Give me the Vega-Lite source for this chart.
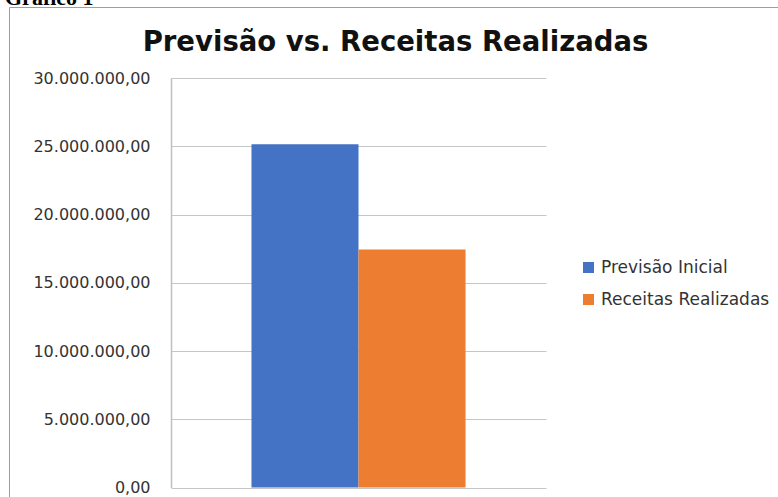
{
  "$schema": "https://vega.github.io/schema/vega-lite/v6.json",
  "autosize": "none",
  "padding": {"left": 9, "top": 7, "right": 0, "bottom": 0},
  "width": 769,
  "height": 490,
  "title": {
    "text": "Gráfico 1",
    "anchor": "start",
    "frame": "group",
    "font": "Liberation Serif",
    "fontSize": 22,
    "fontWeight": "bold",
    "color": "#000000",
    "offset": 0,
    "dx": -4,
    "dy": 20,
    "baseline": "alphabetic"
  },
  "data": {
    "values": [
      {"serie": "Previsão Inicial", "valor": 25150000},
      {"serie": "Receitas Realizadas", "valor": 17430000}
    ]
  },
  "mark": {"type": "bar"},
  "encoding": {
    "x": {
      "field": "serie",
      "type": "nominal",
      "sort": ["Previsão Inicial", "Receitas Realizadas"],
      "scale": {"range": [162, 537], "paddingInner": 0, "paddingOuter": 0.752},
      "axis": {
        "orient": "top",
        "labels": false,
        "ticks": false,
        "domain": false,
        "grid": false,
        "title": "Previsão vs. Receitas Realizadas",
        "titleFont": "DejaVu Sans",
        "titleFontSize": 27.5,
        "titleFontWeight": "bold",
        "titleColor": "#111111",
        "titleAngle": 0,
        "titleAlign": "center",
        "titleBaseline": "alphabetic",
        "titleX": 386,
        "titleY": 43
      }
    },
    "y": {
      "field": "valor",
      "type": "quantitative",
      "scale": {"domain": [0, 30000000], "range": [480.5, 71], "nice": false, "zero": true},
      "axis": {
        "orient": "left",
        "offset": -162,
        "values": [0, 5000000, 10000000, 15000000, 20000000, 25000000, 30000000],
        "format": ",.2f",
        "title": null,
        "ticks": false,
        "tickSize": 0,
        "labelPadding": 21,
        "labelFont": "DejaVu Sans",
        "labelFontSize": 16,
        "labelColor": "#333333",
        "domain": true,
        "domainColor": "#BFBFBF",
        "domainWidth": 1.5,
        "grid": true,
        "gridColor": "#C6C6C6",
        "gridWidth": 1.2
      }
    },
    "color": {
      "field": "serie",
      "type": "nominal",
      "scale": {"domain": ["Previsão Inicial", "Receitas Realizadas"], "range": ["#4472C4", "#ED7D31"]},
      "legend": {
        "title": null,
        "orient": "none",
        "legendX": 571,
        "legendY": 252,
        "padding": 0,
        "symbolType": "square",
        "symbolSize": 121,
        "symbolStrokeWidth": 0,
        "labelFont": "DejaVu Sans",
        "labelFontSize": 17,
        "labelColor": "#333333",
        "labelOffset": 4,
        "labelLimit": 400,
        "rowPadding": 14
      }
    }
  },
  "config": {
    "locale": {
      "number": {"decimal": ",", "thousands": ".", "grouping": [3], "currency": ["R$ ", ""]}
    },
    "view": {"stroke": "#9E9E9E", "strokeWidth": 1}
  }
}
